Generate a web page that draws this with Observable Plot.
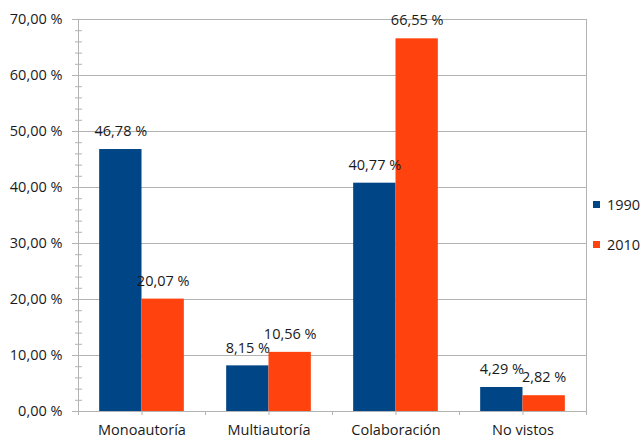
<!DOCTYPE html>
<html><head><meta charset="utf-8">
<script src="https://cdn.jsdelivr.net/npm/d3@7"></script>
<script src="https://cdn.jsdelivr.net/npm/@observablehq/plot@0.6"></script>
<style>
body{margin:0;background:#fff;}
#wrap{position:relative;width:643px;height:443px;}
.leg{position:absolute;left:593px;font:14.5px "Open Sans",sans-serif;color:#1a1a1a;display:flex;align-items:center;height:16px;}
.sw{width:7px;height:7px;margin-right:7px;}
</style></head><body><div id="wrap"></div>
<script>
const categories = ["Monoautoría","Multiautoría","Colaboración","No vistos"];
const series = ["1990","2010"];
const values1990 = [46.78, 8.15, 40.77, 4.29];
const values2010 = [20.07, 10.56, 66.55, 2.82];
const yTicks = [0,10,20,30,40,50,60,70];
const minorTicks = [2,4,6,8,12,14,16,18,22,24,26,28,32,34,36,38,42,44,46,48,52,54,56,58,62,64,66,68];
const colors = ["#004586","#ff420e"];

const W = 643, H = 443, ml = 78, mr = 57, mt = 19, mb = 32;
const step = (W - ml - mr) / categories.length;
const barW = step / 3;
const plotH = H - mt - mb;
const grey = "#b3b3b3";
const fmt = v => v.toFixed(2).replace(".", ",") + " %";

const d1990 = categories.map((c, i) => ({cat: c, value: values1990[i]}));
const d2010 = categories.map((c, i) => ({cat: c, value: values2010[i]}));

const chart = Plot.plot({
  width: W, height: H,
  marginLeft: ml, marginRight: mr, marginTop: mt, marginBottom: mb,
  style: {fontFamily: "Open Sans", fontSize: "14.5px", color: "#1a1a1a", background: "#fff"},
  x: {type: "band", domain: categories, padding: 0, label: null},
  y: {domain: [0, 70], label: null},
  marks: [
    Plot.ruleY(yTicks, {stroke: grey, insetLeft: -6}),
    Plot.tickY(minorTicks, {stroke: grey, insetLeft: -3, insetRight: W - ml - mr - 4}),
    Plot.ruleX(categories, {x: d => d, dx: -step / 2, stroke: grey, insetTop: plotH, insetBottom: -4}),
    Plot.ruleX([categories[categories.length - 1]], {x: d => d, dx: step / 2, stroke: grey, insetTop: plotH, insetBottom: -4}),
    Plot.frame({stroke: grey}),
    Plot.barY(d1990, {x: "cat", y: "value", fill: colors[0], insetLeft: step / 2 - barW, insetRight: step / 2}),
    Plot.barY(d2010, {x: "cat", y: "value", fill: colors[1], insetLeft: step / 2, insetRight: step / 2 - barW}),
    Plot.text(d1990, {x: "cat", y: "value", text: d => fmt(d.value), dx: -barW / 2, dy: -18, fill: "#1a1a1a"}),
    Plot.text(d2010, {x: "cat", y: "value", text: d => fmt(d.value), dx: barW / 2, dy: -18, fill: "#1a1a1a"}),
    Plot.axisY({ticks: yTicks, tickSize: 0, tickPadding: 16, tickFormat: fmt, label: null}),
    Plot.axisX({tickSize: 4, stroke: grey, tickPadding: 9, label: null})
  ]
});
const wrap = document.getElementById("wrap");
wrap.appendChild(chart);
series.forEach((s, i) => {
  const el = document.createElement("div");
  el.className = "leg";
  el.style.top = (196 + i * 40) + "px";
  el.innerHTML = `<span class="sw" style="background:${colors[i]}"></span><span>${s}</span>`;
  wrap.appendChild(el);
});
</script></body></html>
